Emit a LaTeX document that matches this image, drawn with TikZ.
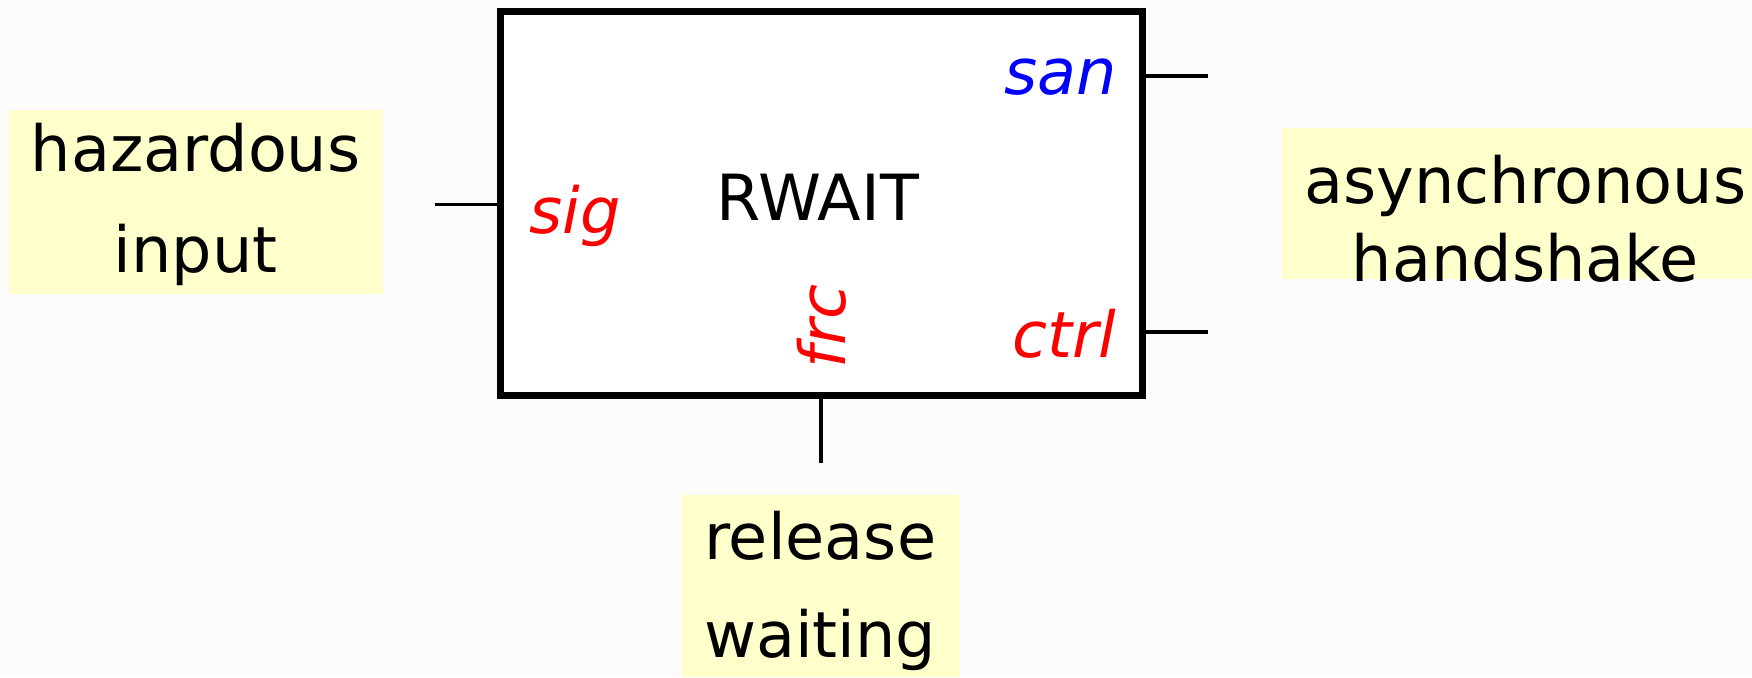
\documentclass[tikz,border=0pt]{standalone}
\usepackage{fontspec}
\setmainfont{DejaVu Sans}
\definecolor{bgcol}{RGB}{252,252,252}
\definecolor{notecol}{RGB}{255,255,204}
\definecolor{portred}{RGB}{255,0,0}
\definecolor{portblue}{RGB}{0,0,255}
\tikzset{
  mainfont/.style={font=\fontsize{16.2pt}{19pt}\selectfont},
  blockbox/.style={draw=black, line width=1.8pt, fill=white, minimum width=5.74cm, minimum height=3.44cm, inner sep=0pt},
  notebox/.style={fill=notecol},
  wire/.style={draw=black, line width=1pt},
  portlbl/.style={mainfont, font=\fontsize{16.2pt}{19pt}\selectfont\itshape, inner sep=0pt},
  notetext/.style={align=center, inner sep=0pt},
}
\begin{document}
\begin{tikzpicture}[x=0.01cm, y=-0.01cm]
\useasboundingbox (0,0) rectangle (1568,606);
\fill[bgcol] (0,0) rectangle (1568,606);
% yellow note areas
\fill[notebox] (8,98) rectangle (343,263);
\fill[notebox] (1147,115) rectangle (1568,250);
\fill[notebox] (610,443) rectangle (859,606);
% main block
\node[blockbox] (rw) at (735,182) {};
\node[mainfont, anchor=base, inner sep=0pt] (rwlbl) at (732,197) {RWAIT};
% port labels
\node[portlbl, text=portblue, anchor=base east] (san) at (1000,85) {san};
\node[portlbl, text=portred, anchor=base west] (sig) at (473,209) {sig};
\node[portlbl, text=portred, anchor=base east] (ctrl) at (1000,320) {ctrl};
\node[portlbl, text=portred, anchor=base, rotate=90] (frc) at (757,292) {frc};
% wire ends
\coordinate (sigend) at (389,183);
\coordinate (sanend) at (1081,68);
\coordinate (ctrlend) at (1081,297);
\coordinate (frcend) at (735,414);
\draw[wire] (sigend) -- (rw.west |- sigend);
\draw[wire] (rw.east |- sanend) -- (sanend);
\draw[wire] (rw.east |- ctrlend) -- (ctrlend);
\draw[wire] (rw.south) -- (frcend);
% note texts
\node[notetext, font=\fontsize{16.2pt}{25.5pt}\selectfont] (hazard) at (175,183) {hazardous\\input};
\node[notetext, font=\fontsize{16.2pt}{19.8pt}\selectfont] (async) at (1365,196) {asynchronous\\handshake};
\node[notetext, font=\fontsize{16.2pt}{24.9pt}\selectfont] (release) at (734,529) {release\\waiting};
\end{tikzpicture}
\end{document}
